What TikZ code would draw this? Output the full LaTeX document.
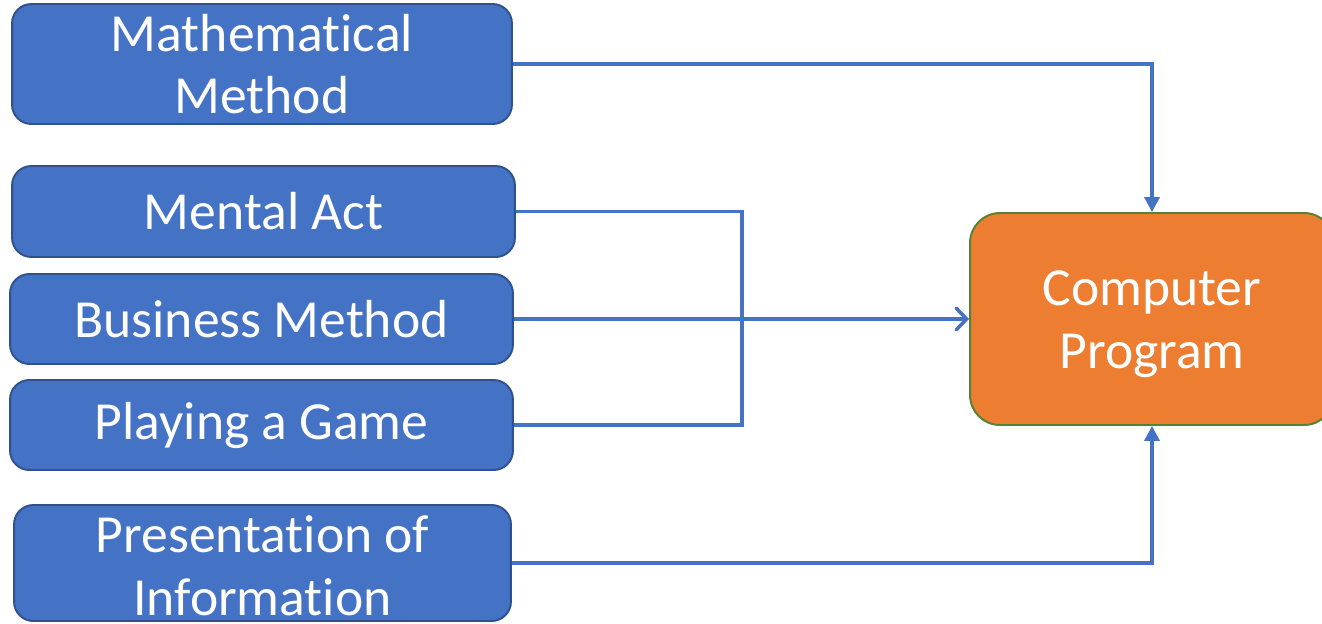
\documentclass[tikz,border=0pt]{standalone}
\usepackage{fontspec}
\setmainfont{Carlito}[Ligatures=NoCommon]
\usetikzlibrary{arrows.meta}
\definecolor{boxblue}{HTML}{4472C4}
\definecolor{boxedge}{HTML}{2F528F}
\definecolor{progorange}{HTML}{ED7D31}
\definecolor{progedge}{HTML}{548235}
\tikzset{
	topic/.style={draw=boxedge, fill=boxblue, line width=1.1pt, rounded corners=11pt, text=white, align=center, inner sep=0pt},
	target/.style={draw=progedge, fill=progorange, line width=1.1pt, rounded corners=17pt, inner sep=0pt},
	link/.style={draw=boxblue, line width=2pt},
	downtip/.style={-{Triangle[length=8.5pt,width=8.5pt]}},
	sidetip/.style={-{Straight Barb[length=6pt,width=12.5pt,line cap=round]}}
}
\begin{document}
\begin{tikzpicture}[x=0.02cm, y=-0.02cm, font=\fontsize{30.5}{35.7}\selectfont]
		%%%%% START %%%%%
		\useasboundingbox (0, 0) rectangle (1322, 623);
		
		\node[topic, minimum width=10cm, minimum height=2.4cm] (math) at (262, 64) {Mathematical\\Method};
		\node[topic, minimum width=10.06cm, minimum height=1.82cm] (ment) at (263.5, 211.5) {Mental Act};
		\node[topic, minimum width=10.06cm, minimum height=1.8cm] (bus) at (261.5, 319) {Business Method};
		\node[topic, minimum width=10.06cm, minimum height=1.8cm] (play) at (261.5, 425) {Playing a Game};
		\node[topic, minimum width=9.94cm, minimum height=2.32cm] (pres) at (262.5, 563) {};
		\node[text=white, align=center] (prestext) at (262.5, 566) {Presentation of\\Information};
		
		\node[target, minimum width=7.28cm, minimum height=4.24cm] (prog) at (1152, 319) {};
		\node[text=white, align=center] (progtext) at (1152, 324) {Computer\\Program};
		
		\coordinate (junc) at (742, 425);
		
		\draw[link, downtip] (math.east) -| (prog.north);
		\draw[link] (ment.east) -| (junc) -- (play.east);
		\draw[link, sidetip] (bus.east) -- (prog.west);
		\draw[link, downtip] (pres.east) -| (prog.south);
		%%%%% END %%%%%
\end{tikzpicture}
\end{document}
